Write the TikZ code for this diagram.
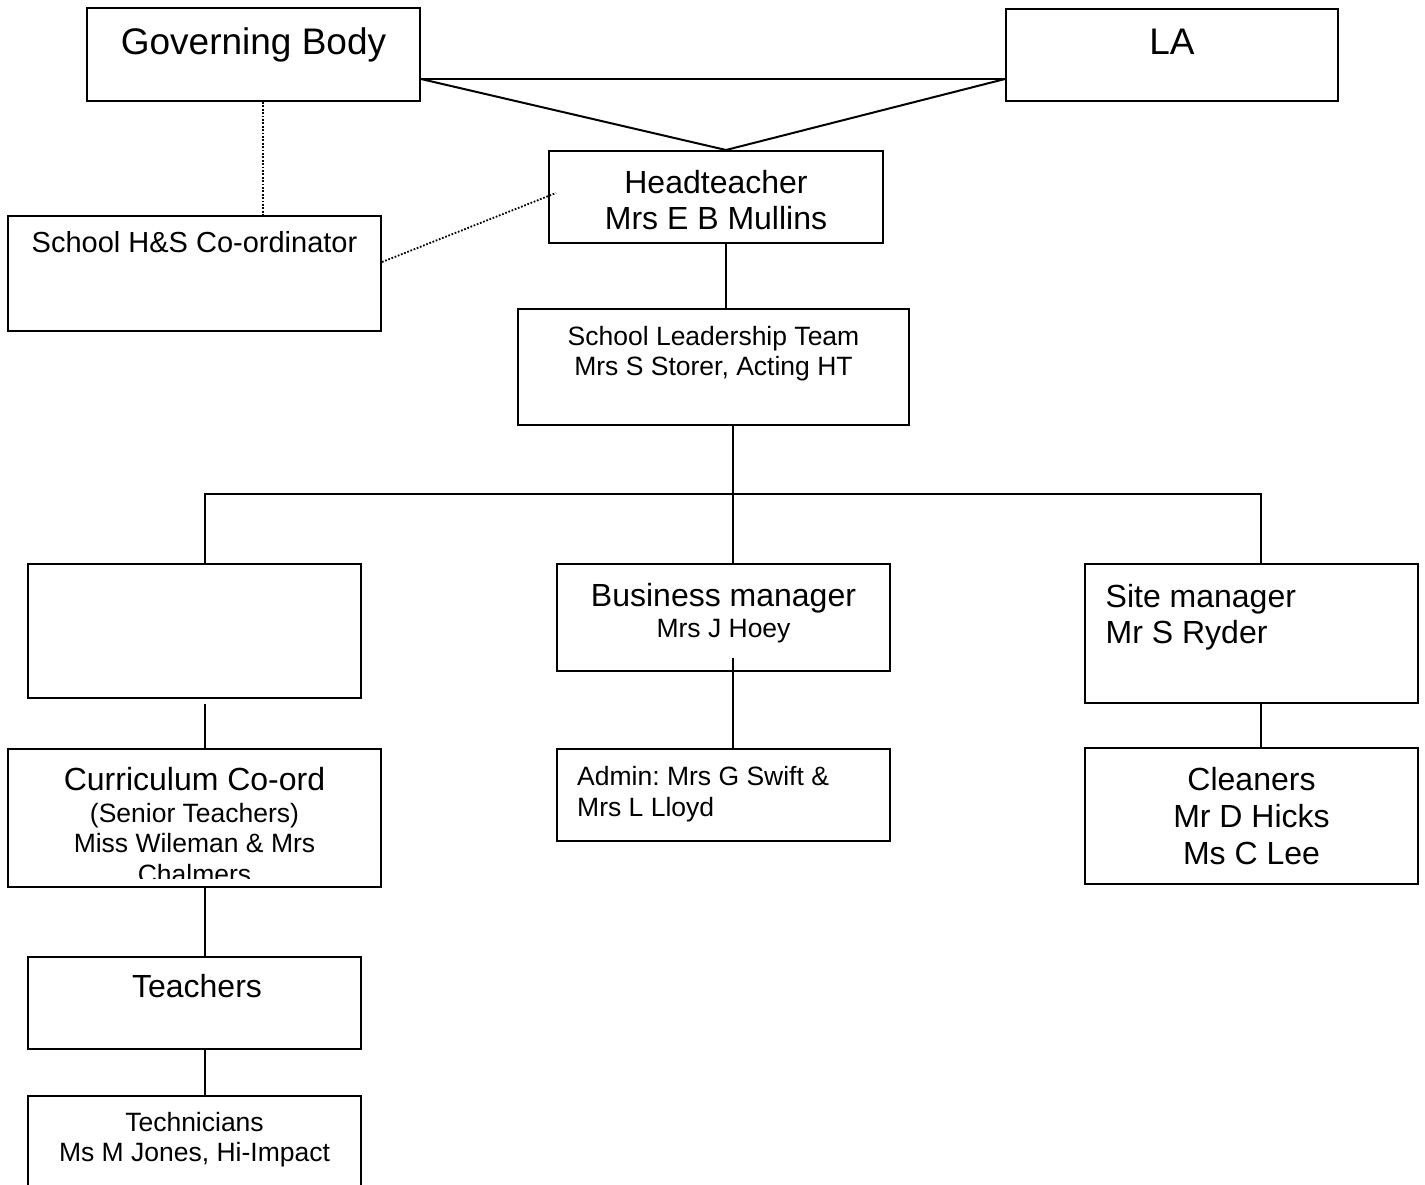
\documentclass[tikz,border=0pt]{standalone}
\usepackage{fontspec}
\setmainfont{Liberation Sans}
\usetikzlibrary{positioning}

\tikzset{
  box/.style={draw, line width=2pt, inner sep=0pt},
  txt/.style={inner sep=0pt, align=center},
  link/.style={line width=2pt},
  hslink/.style={line width=1.8pt, dash pattern=on 1.7pt off 1.7pt},
}
\newcommand{\fbig}{\fontsize{37}{42}\selectfont}
\newcommand{\fmid}{\fontsize{32}{36}\selectfont}
\newcommand{\fsmall}{\fontsize{26.5}{30.5}\selectfont}
\frenchspacing

\begin{document}
\begin{tikzpicture}[x=1pt,y=-1pt]
		\useasboundingbox (0,0) rectangle (1425,1184);
		\clip (0,0) rectangle (1425,1184);

		% top row
		\node(gb)  [box, minimum width=333pt, minimum height=93pt] at (253.5,54.5) {};
		\node(gbtext)  [txt, font=\fbig, below=20pt of gb.north] {Governing Body};
		\node(la)  [box, minimum width=332pt, minimum height=92pt] at (1172,55) {};
		\node(latext)  [txt, font=\fbig, below=20.5pt of la.north] {LA};

		\node(head)  [box, minimum width=334pt, minimum height=92pt] at (716,197) {};
		\node(headtext)  [txt, font=\fmid, below=20pt of head.north] {Headteacher\\Mrs E B Mullins};
		\node(hs)  [box, minimum width=373pt, minimum height=115pt] at (194.5,273.5) {};
		\node(hstext)  [txt, font=\fontsize{29}{33}\selectfont, below=16pt of hs.north] {School H\&S Co-ordinator};

		\node(slt)  [box, minimum width=391pt, minimum height=116pt] at (713.5,367) {};
		\node(slttext)  [txt, font=\fsmall, below=18pt of slt.north] {School Leadership Team\\Mrs S Storer, Acting HT};

		% second level
		\node(blank)  [box, minimum width=333pt, minimum height=134pt] at (194.5,631) {};
		\node(bm)  [box, minimum width=333pt, minimum height=107pt] at (723.5,617.5) {};
		\node(bmtext)  [txt, font=\fontsize{32}{31}\selectfont, below=20pt of bm.north] {Business manager\\{\fsmall Mrs J Hoey}};
		\node(site)  [box, minimum width=333pt, minimum height=139pt] at (1251.5,633.5) {};
		\node(sitetext)  [txt, align=left, font=\fmid, below right=21pt and 21.5pt of site.north west] {Site manager\\Mr S Ryder};

		% third level
		\node(cc)  [box, minimum width=373pt, minimum height=138pt] at (194.5,818) {};
		\begin{scope}
		\clip (cc.north west) rectangle ([yshift=10pt]cc.south east);
		\node(cctext)  [txt, font=\fontsize{32}{30.5}\selectfont, below=19pt of cc.north] {Curriculum Co-ord\\[1.5pt]{\fsmall (Senior Teachers)}\\{\fsmall Miss Wileman \& Mrs}\\{\fsmall Chalmers}};
		\end{scope}
		\node(admin)  [box, minimum width=333pt, minimum height=92pt] at (723.5,795) {};
		\node(admintext)  [txt, align=left, font=\fontsize{26.5}{31.5}\selectfont, below right=18pt and 21pt of admin.north west] {Admin: Mrs G Swift \&\\Mrs L Lloyd};
		\node(clean)  [box, minimum width=333pt, minimum height=136pt] at (1251.5,816) {};
		\node(cleantext)  [txt, font=\fontsize{32}{37}\selectfont, below=20pt of clean.north] {Cleaners\\Mr D Hicks\\Ms C Lee};

		\node(teach)  [box, minimum width=333pt, minimum height=92pt] at (194.5,1003) {};
		\node(teachtext)  [txt, font=\fmid, below=18pt of teach.north, xshift=2.5pt] {Teachers};
		\node(tech)  [box, minimum width=333pt, minimum height=124pt] at (194.5,1158) {};
		\node(techtext)  [txt, font=\fsmall, below=17pt of tech.north] {Technicians\\Ms M Jones, Hi-Impact};

		% columns of the connectors
		\coordinate (gx) at (263,0);
		\coordinate (hx) at (726,0);
		\coordinate (lx) at (205,494);
		\coordinate (mx) at (733,494);
		\coordinate (rx) at (1261,494);
		\coordinate (blankbot) at ([yshift=-4.5pt]blank.south);
		\coordinate (bmin) at ([yshift=14pt]bm.south);

		\draw[link] ([yshift=23pt]gb.south east) -- ([yshift=23pt]la.south west);
		\draw[link] ([yshift=23pt]gb.south east) -- (hx |- head.north) -- ([yshift=23pt]la.south west);
		\draw[hslink] (gx |- gb.south) -- (gx |- hs.north);
		\draw[hslink] ([yshift=11.5pt]hs.east) -- ([xshift=8pt,yshift=4pt]head.west);
		\draw[link] (hx |- head.south) -- (hx |- slt.north);

		\draw[link] (mx |- slt.south) -- (mx |- bm.north);
		\draw[link] (lx |- blank.north) -- (lx) -- (rx) -- (rx |- site.north);

		\draw[link] (lx |- blankbot) -- (lx |- cc.north);
		\draw[link] (mx |- bmin) -- (mx |- admin.north);
		\draw[link] (rx |- site.south) -- (rx |- clean.north);
		\draw[link] (lx |- cc.south) -- (lx |- teach.north);
		\draw[link] (lx |- teach.south) -- (lx |- tech.north);
\end{tikzpicture}
\end{document}
